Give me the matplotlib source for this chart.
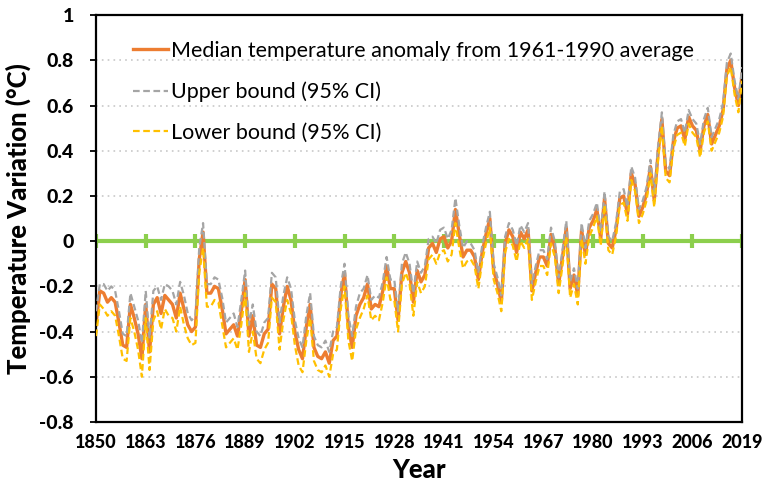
import numpy as np
import matplotlib.pyplot as plt
from matplotlib.ticker import FuncFormatter

plt.rcParams['font.family'] = ['Lato', 'DejaVu Sans']
plt.rcParams['axes.unicode_minus'] = False

years = np.arange(1850, 2020)

# median anomaly vs 1961-1990
median = [
    -0.37, -0.22, -0.23, -0.27, -0.25, -0.27, -0.36, -0.46, -0.47, -0.28,
    -0.34, -0.41, -0.52, -0.28, -0.49, -0.28, -0.25, -0.32, -0.24, -0.26,
    -0.28, -0.34, -0.23, -0.30, -0.37, -0.40, -0.38, -0.08, 0.04, -0.23,
    -0.23, -0.20, -0.21, -0.30, -0.41, -0.39, -0.37, -0.42, -0.31, -0.17,
    -0.42, -0.33, -0.46, -0.47, -0.41, -0.39, -0.19, -0.21, -0.41, -0.29,
    -0.20, -0.26, -0.40, -0.48, -0.52, -0.38, -0.28, -0.47, -0.51, -0.52,
    -0.49, -0.54, -0.44, -0.42, -0.24, -0.14, -0.38, -0.47, -0.33, -0.28,
    -0.25, -0.19, -0.30, -0.28, -0.29, -0.22, -0.11, -0.21, -0.21, -0.35,
    -0.14, -0.09, -0.14, -0.27, -0.13, -0.18, -0.15, -0.03, -0.01, -0.05,
    0.01, 0.02, -0.03, 0.00, 0.14, 0.03, -0.07, -0.04, -0.04, -0.07,
    -0.17, -0.05, 0.03, 0.10, -0.13, -0.19, -0.27, -0.01, 0.05, 0.02,
    -0.05, 0.04, 0.01, 0.05, -0.22, -0.14, -0.07, -0.07, -0.11, 0.03,
    -0.03, -0.19, -0.07, 0.06, -0.21, -0.15, -0.24, 0.05, -0.06, 0.06,
    0.09, 0.14, 0.01, 0.19, -0.01, -0.03, 0.05, 0.19, 0.20, 0.12,
    0.30, 0.25, 0.11, 0.15, 0.21, 0.33, 0.18, 0.39, 0.54, 0.31,
    0.29, 0.44, 0.50, 0.51, 0.45, 0.55, 0.51, 0.49, 0.40, 0.51,
    0.56, 0.43, 0.47, 0.51, 0.58, 0.76, 0.80, 0.68, 0.60, 0.74,
]

upper = [
    -0.31, -0.19, -0.19, -0.22, -0.20, -0.22, -0.31, -0.41, -0.42, -0.23,
    -0.29, -0.35, -0.45, -0.22, -0.43, -0.22, -0.20, -0.26, -0.19, -0.20,
    -0.22, -0.28, -0.18, -0.24, -0.32, -0.35, -0.33, -0.03, 0.08, -0.19,
    -0.19, -0.16, -0.17, -0.25, -0.36, -0.34, -0.32, -0.38, -0.26, -0.13,
    -0.37, -0.28, -0.40, -0.42, -0.36, -0.34, -0.14, -0.16, -0.36, -0.24,
    -0.16, -0.21, -0.35, -0.43, -0.47, -0.33, -0.23, -0.42, -0.46, -0.47,
    -0.44, -0.49, -0.40, -0.38, -0.20, -0.10, -0.33, -0.42, -0.29, -0.23,
    -0.21, -0.15, -0.26, -0.24, -0.25, -0.18, -0.07, -0.17, -0.17, -0.31,
    -0.10, -0.05, -0.10, -0.23, -0.09, -0.14, -0.11, 0.01, 0.02, -0.01,
    0.05, 0.06, 0.01, 0.05, 0.19, 0.07, -0.03, 0.00, -0.01, -0.04,
    -0.14, -0.02, 0.06, 0.13, -0.10, -0.16, -0.24, 0.02, 0.08, 0.05,
    -0.02, 0.07, 0.04, 0.08, -0.19, -0.11, -0.04, -0.04, -0.08, 0.06,
    0.00, -0.16, -0.04, 0.09, -0.18, -0.12, -0.21, 0.08, -0.03, 0.09,
    0.12, 0.17, 0.04, 0.22, 0.02, 0.00, 0.08, 0.22, 0.23, 0.15,
    0.33, 0.28, 0.14, 0.18, 0.24, 0.36, 0.21, 0.42, 0.57, 0.34,
    0.32, 0.47, 0.53, 0.54, 0.48, 0.58, 0.54, 0.52, 0.43, 0.54,
    0.59, 0.46, 0.50, 0.54, 0.61, 0.79, 0.83, 0.71, 0.63, 0.77,
]

lower = [
    -0.42, -0.28, -0.30, -0.33, -0.31, -0.33, -0.42, -0.52, -0.53, -0.34,
    -0.40, -0.48, -0.60, -0.34, -0.57, -0.35, -0.31, -0.39, -0.30, -0.33,
    -0.34, -0.40, -0.29, -0.37, -0.43, -0.46, -0.45, -0.14, -0.03, -0.29,
    -0.29, -0.26, -0.27, -0.37, -0.47, -0.45, -0.43, -0.48, -0.37, -0.23,
    -0.49, -0.40, -0.52, -0.54, -0.48, -0.45, -0.25, -0.27, -0.48, -0.35,
    -0.26, -0.32, -0.46, -0.55, -0.58, -0.44, -0.34, -0.53, -0.57, -0.58,
    -0.55, -0.60, -0.50, -0.48, -0.30, -0.20, -0.44, -0.53, -0.39, -0.34,
    -0.30, -0.24, -0.35, -0.33, -0.35, -0.27, -0.16, -0.26, -0.26, -0.40,
    -0.19, -0.14, -0.19, -0.33, -0.18, -0.23, -0.20, -0.08, -0.06, -0.10,
    -0.05, -0.04, -0.09, -0.06, 0.08, -0.03, -0.12, -0.09, -0.08, -0.11,
    -0.21, -0.09, -0.01, 0.06, -0.17, -0.23, -0.31, -0.05, 0.01, -0.02,
    -0.09, 0.00, -0.03, 0.01, -0.26, -0.18, -0.11, -0.11, -0.15, -0.01,
    -0.07, -0.23, -0.11, 0.02, -0.25, -0.19, -0.28, 0.01, -0.10, 0.02,
    0.06, 0.11, -0.02, 0.16, -0.04, -0.06, 0.02, 0.16, 0.17, 0.09,
    0.27, 0.22, 0.08, 0.12, 0.18, 0.30, 0.15, 0.36, 0.51, 0.28,
    0.26, 0.41, 0.47, 0.48, 0.42, 0.52, 0.48, 0.46, 0.37, 0.48,
    0.53, 0.40, 0.44, 0.48, 0.55, 0.73, 0.77, 0.65, 0.57, 0.71,
]

xticks = list(range(1850, 2020, 13))
yticks = [-0.8, -0.6, -0.4, -0.2, 0, 0.2, 0.4, 0.6, 0.8, 1]

fig = plt.figure(figsize=(7.62, 4.87), dpi=100)
ax = fig.add_axes([0.126, 0.1335, 0.848, 0.8355])

# gridlines
for y in yticks[1:-1]:
    ax.axhline(y, color='#c8c8c8', lw=1.2, ls=(0, (1, 2.5)), zorder=0)

# green "axis" at zero with its tick marks
green = '#8CCF4D'
ax.axhline(0, color=green, lw=3, zorder=1)
ax.plot(xticks, [0] * len(xticks), ls='none', marker='|', ms=10, mew=3, color=green, zorder=1)

ax.plot(years, median, color='#ED7D31', lw=2.4, label='Median temperature anomaly from 1961-1990 average', zorder=2)
ax.plot(years, upper, color='#A5A5A5', lw=1.6, ls=(0, (3, 1.6)), label='Upper bound (95% CI)', zorder=3)
ax.plot(years, lower, color='#FFC000', lw=1.6, ls=(0, (3, 1.6)), label='Lower bound (95% CI)', zorder=4)

ax.set_xlim(1850, 2019)
ax.set_ylim(-0.8, 1)
ax.set_xticks(xticks)
ax.set_yticks(yticks)
ax.yaxis.set_major_formatter(FuncFormatter(lambda v, p: '{:g}'.format(round(v, 1))))
ax.tick_params(axis='x', length=0, pad=9, labelsize=13)
ax.tick_params(axis='y', direction='out', length=4, width=1.3, pad=12, labelsize=14)
for lab in ax.get_xticklabels() + ax.get_yticklabels():
    lab.set_fontweight('black')
for s in ax.spines.values():
    s.set_linewidth(1.6)
    s.set_color('black')

ax.set_xlabel('Year', fontsize=18.5, fontweight='black', labelpad=5)
ax.set_ylabel('Temperature Variation (°C)', fontsize=18.5, fontweight='black', labelpad=6)

leg = ax.legend(loc='upper left', frameon=False, fontsize=15.5, handlelength=1.6,
                handletextpad=0.15, labelspacing=0.95, borderaxespad=0.2,
                bbox_to_anchor=(0.038, 0.968))

fig.savefig('out.png', dpi=100)
